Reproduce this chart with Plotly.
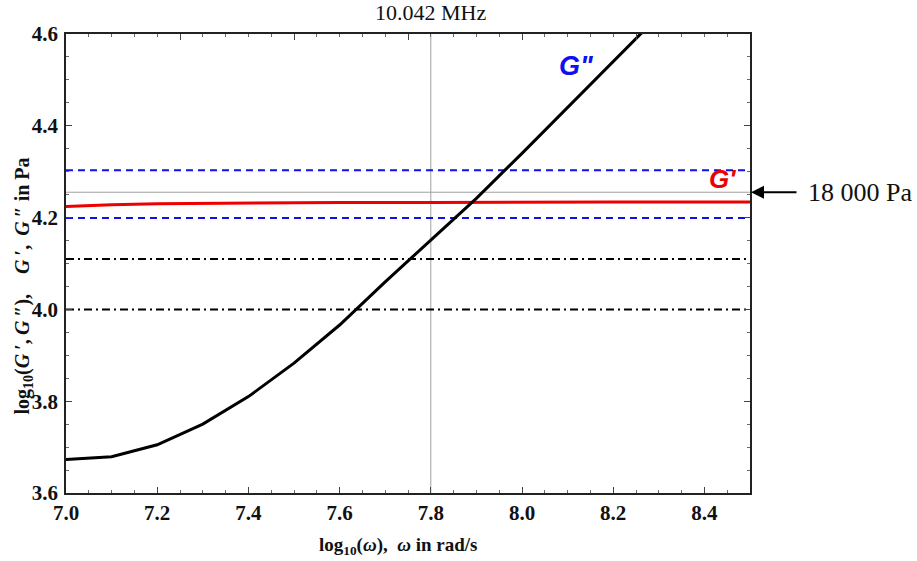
import plotly.graph_objects as go

# log10(omega) sample points
log_omega = [7.0, 7.1, 7.2, 7.3, 7.4, 7.5, 7.6, 7.7, 7.8, 7.9, 8.0, 8.1, 8.2, 8.3]
# log10(G'') loss modulus
log_g2 = [3.673, 3.679, 3.705, 3.750, 3.810, 3.883, 3.966, 4.060, 4.151, 4.242, 4.340, 4.440, 4.540, 4.640]

# log10(G') storage modulus
log_omega_g1 = [7.0, 7.1, 7.2, 7.3, 7.4, 7.5, 7.6, 7.8, 8.0, 8.2, 8.5]
log_g1 = [4.224, 4.228, 4.230, 4.231, 4.232, 4.233, 4.233, 4.233, 4.234, 4.234, 4.234]

# reference levels (log10 Pa)
band_levels = [4.303, 4.199]          # blue dashed band
dashdot_levels = [4.110, 4.000]       # black dash-dot levels
ref_level = 4.2553                    # 18 000 Pa
ref_omega = 7.8                       # vertical reference

x_range = [7.0, 8.5]
y_range = [3.6, 4.6]
x_ticks = [7.0, 7.2, 7.4, 7.6, 7.8, 8.0, 8.2, 8.4]
y_ticks = [3.6, 3.8, 4.0, 4.2, 4.4, 4.6]

serif = "Times New Roman, Liberation Serif, serif"
sans = "Arial, Liberation Sans, sans-serif"

fig = go.Figure()

# thin gray reference lines
fig.add_trace(go.Scatter(x=x_range, y=[ref_level, ref_level], mode="lines",
                         line=dict(color="#a0a0a0", width=1), hoverinfo="skip"))
fig.add_trace(go.Scatter(x=[ref_omega, ref_omega], y=y_range, mode="lines",
                         line=dict(color="#a0a0a0", width=1), hoverinfo="skip"))

for lv in band_levels:
    fig.add_trace(go.Scatter(x=x_range, y=[lv, lv], mode="lines",
                             line=dict(color="#1010ee", width=2, dash="7px,5px")))
for lv in dashdot_levels:
    fig.add_trace(go.Scatter(x=x_range, y=[lv, lv], mode="lines",
                             line=dict(color="black", width=2, dash="8px,4px,2px,4px")))

fig.add_trace(go.Scatter(x=log_omega_g1, y=log_g1, mode="lines",
                         line=dict(color="#ee0000", width=3)))
fig.add_trace(go.Scatter(x=log_omega, y=log_g2, mode="lines",
                         line=dict(color="black", width=3)))

# invisible trace to carry the top/right frame axes
fig.add_trace(go.Scatter(x=x_range, y=y_range, xaxis="x2", yaxis="y2",
                         mode="markers", marker=dict(opacity=0), hoverinfo="skip"))

frame = dict(showline=True, linecolor="#222", linewidth=1.5, showgrid=False,
             zeroline=False)
tick_font = dict(family=serif, size=21, color="#111")

fig.update_layout(
    width=917, height=561,
    margin=dict(l=66, r=167, t=34, b=68),
    plot_bgcolor="white", paper_bgcolor="white",
    font=dict(family=serif, color="#111"),
    showlegend=False,
    xaxis=dict(range=x_range, tickvals=x_ticks,
               ticktext=[f"<b>{v:.1f}</b>" for v in x_ticks],
               ticks="inside", ticklen=6, tickcolor="#444", tickwidth=1,
               minor=dict(dtick=0.05, tick0=7.0, ticks="inside", ticklen=3,
                          tickcolor="#666"),
               tickfont=tick_font, ticklabelstandoff=0, **frame),
    yaxis=dict(range=y_range, tickvals=y_ticks,
               ticktext=[f"<b>{v:.1f}</b>" for v in y_ticks],
               ticks="inside", ticklen=6, tickcolor="#444", tickwidth=1,
               minor=dict(dtick=0.05, tick0=3.6, ticks="inside", ticklen=3,
                          tickcolor="#666"),
               tickfont=tick_font, ticklabelstandoff=2, **frame),
    xaxis2=dict(range=x_range, overlaying="x", side="top", anchor="y",
                showticklabels=False, tick0=7.0, dtick=0.25, ticks="inside",
                ticklen=6, tickcolor="#444",
                minor=dict(dtick=0.05, ticks="inside", ticklen=3, tickcolor="#666"),
                **frame),
    yaxis2=dict(range=y_range, overlaying="y", side="right", anchor="x",
                showticklabels=False, tick0=3.6, dtick=0.2, ticks="inside",
                ticklen=6, tickcolor="#444",
                minor=dict(dtick=0.05, ticks="inside", ticklen=3, tickcolor="#666"),
                **frame),
)

y_title = ("<b>log<sub>10</sub>(<i>G</i>\u2009′,\u2009<i>G</i>\u2009″),"
           "\u2003<i>G</i>\u2009′,\u2009 <i>G</i>\u2009″ in Pa</b>")

annotations = [
    dict(text="10.042 MHz", x=ref_omega, xref="x", y=1.0, yref="paper",
         yanchor="middle", yshift=22, showarrow=False,
         font=dict(family=serif, size=22, color="#111")),
    dict(text="<b>log<sub>10</sub>(<i>ω</i>),  <i>ω</i> in rad/s</b>",
         x=7.73, xref="x", xanchor="center", y=0, yref="paper",
         yanchor="middle", yshift=-53, showarrow=False,
         font=dict(family=serif, size=19, color="#111")),
    dict(text=y_title,
         x=0, xref="paper", xanchor="center", xshift=-43, y=4.05, yref="y",
         yanchor="middle", textangle=-90, showarrow=False,
         font=dict(family=serif, size=20, color="#111")),
    dict(text="<b><i>G\"</i></b>", x=8.12, xref="x", y=4.53, yref="y",
         showarrow=False, font=dict(family=sans, size=27, color="#1010ee")),
    dict(text="<b><i>G'</i></b>", x=8.44, xref="x", y=4.285, yref="y",
         showarrow=False, font=dict(family=sans, size=26, color="#ee0000")),
    dict(text="", x=8.5, xref="x", y=ref_level, yref="y", showarrow=True,
         ax=48, ay=0, arrowhead=2, arrowsize=1.3, arrowwidth=2, arrowcolor="black",
         standoff=1),
    dict(text="18 000 Pa", x=8.5, xref="x", y=ref_level, yref="y",
         xanchor="left", xshift=56, showarrow=False,
         font=dict(family=serif, size=26, color="#111")),
]
fig.update_layout(annotations=annotations)

fig.write_html("out.html")
